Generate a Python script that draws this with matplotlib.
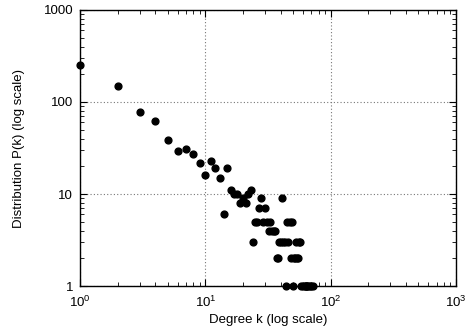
import matplotlib.pyplot as plt
from matplotlib.ticker import LogLocator, FixedFormatter, FixedLocator, NullFormatter

plt.rcParams['font.family'] = ['Liberation Sans', 'DejaVu Sans']
plt.rcParams['mathtext.fontset'] = 'custom'
plt.rcParams['mathtext.rm'] = 'Liberation Sans'

# degree k and distribution P(k)
degree = [1, 2, 3, 4, 5, 6, 7, 8, 9, 10, 11, 12, 13, 14, 15, 16, 17, 18, 19, 20,
          21, 22, 23, 24, 25, 26, 27, 28, 29, 30, 31, 32, 33, 34, 35, 36, 37, 38,
          39, 40, 41, 42, 43, 44, 45, 46, 47, 48, 49, 50, 51, 52, 53, 54, 55, 56,
          57, 58, 60, 62, 63, 64, 65, 66, 68, 70, 72]
dist = [250, 150, 78, 62, 39, 29, 31, 27, 22, 16, 23, 19, 15, 6, 19, 11, 10, 10, 8, 9,
        8, 10, 11, 3, 5, 5, 7, 9, 5, 7, 5, 4, 5, 4, 4, 4, 2, 2,
        3, 3, 9, 3, 3, 1, 5, 3, 5, 2, 5, 1, 2, 2, 3, 2, 2, 3,
        3, 1, 1, 1, 1, 1, 1, 1, 1, 1, 1]

x_ticks = [1, 10, 100, 1000]
x_labels = ['$10^0$', '$10^1$', '$10^2$', '$10^3$']
y_ticks = [1, 10, 100, 1000]
y_labels = ['1', '10', '100', '1000']

fig = plt.figure(figsize=(4.71, 3.30), dpi=100)
ax = fig.add_axes([0.170, 0.133, 0.798, 0.837])

ax.scatter(degree, dist, s=24, color='black', zorder=3, clip_on=False)

ax.set_xscale('log')
ax.set_yscale('log')
ax.set_xlim(1, 1000)
ax.set_ylim(1, 1000)

ax.xaxis.set_major_locator(FixedLocator(x_ticks))
ax.xaxis.set_major_formatter(FixedFormatter(x_labels))
ax.yaxis.set_major_locator(FixedLocator(y_ticks))
ax.yaxis.set_major_formatter(FixedFormatter(y_labels))
ax.xaxis.set_minor_locator(LogLocator(base=10, subs=range(2, 10)))
ax.yaxis.set_minor_locator(LogLocator(base=10, subs=range(2, 10)))
ax.xaxis.set_minor_formatter(NullFormatter())
ax.yaxis.set_minor_formatter(NullFormatter())

ax.tick_params(which='both', direction='in', top=True, right=True, colors='black',
               labelsize=9.5)
ax.tick_params(which='major', length=5, width=0.8)
ax.tick_params(which='minor', length=3, width=0.6)
ax.tick_params(axis='x', which='major', pad=6)
ax.tick_params(axis='y', which='major', pad=5)

ax.grid(True, which='major', linestyle=(0, (1, 2)), color='#777777', linewidth=0.8)
for s in ax.spines.values():
    s.set_linewidth(1.0)

ax.set_xlabel('Degree k (log scale)', fontsize=9.5, labelpad=3)
ax.set_ylabel('Distribution P(k) (log scale)', fontsize=9.5, labelpad=13)

fig.savefig('out.png', dpi=100)
